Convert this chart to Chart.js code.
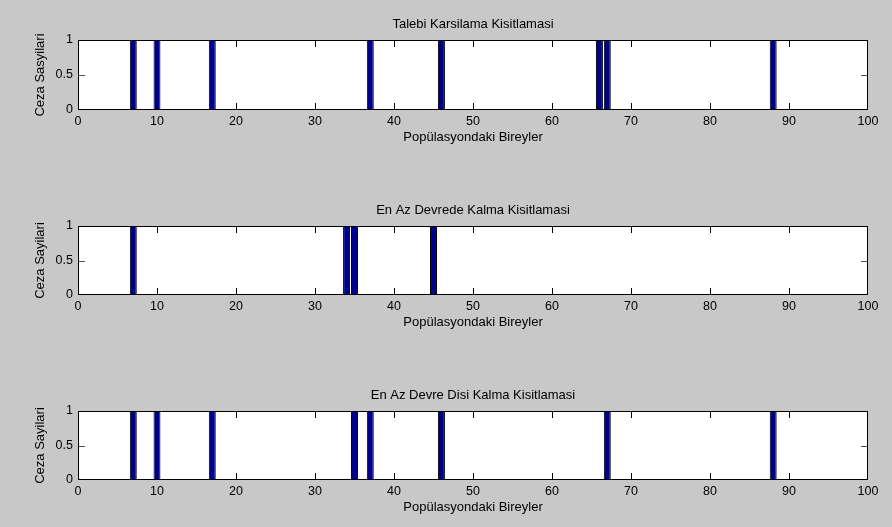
<!DOCTYPE html>
<html>
<head>
<meta charset="utf-8">
<title>Ceza Sayilari</title>
<script src="https://cdn.jsdelivr.net/npm/chart.js@4.4.1/dist/chart.umd.min.js"></script>
<style>
  html, body { margin: 0; padding: 0; background: #c8c8c8; }
  body { width: 892px; height: 527px; position: relative; overflow: hidden; }
  canvas { position: absolute; left: 0; }
</style>
</head>
<body>
<canvas id="c1" width="892" height="150" style="top:0px"></canvas>
<canvas id="c2" width="892" height="149" style="top:186px"></canvas>
<canvas id="c3" width="892" height="149" style="top:371px"></canvas>
<script>
// Population size (individuals are numbered 1..populationSize)
const populationSize = 100;

// Penalised individuals and their penalty counts, one pair of arrays per constraint
const talebiIndividuals = [7, 10, 17, 37, 46, 66, 67, 88];
const talebiCounts      = [1, 1, 1, 1, 1, 1, 1, 1];

const devredeIndividuals = [7, 34, 35, 45];
const devredeCounts      = [1, 1, 1, 1];

const disiIndividuals = [7, 10, 17, 35, 37, 46, 67, 88];
const disiCounts      = [1, 1, 1, 1, 1, 1, 1, 1];

// Axis settings
const xTickValues = [0, 10, 20, 30, 40, 50, 60, 70, 80, 90, 100];
const yTickValues = [0, 0.5, 1];

const titles = [
  'Talebi Karsilama Kisitlamasi',
  'En Az Devrede Kalma Kisitlamasi',
  'En Az Devre Disi Kalma Kisitlamasi'
];
const yTitles = ['Ceza Sasyilari', 'Ceza Sayilari', 'Ceza Sayilari'];
const xTitle = 'Popülasyondaki Bireyler';

const FONT = '"Liberation Sans", Arial, Helvetica, sans-serif';
Chart.defaults.color = '#000';
Chart.defaults.font.family = FONT;

// Build one point per individual; individuals without a penalty get 0
function buildPoints(individuals, counts) {
  const pts = [];
  for (let i = 1; i <= populationSize; i++) {
    const k = individuals.indexOf(i);
    pts.push({ x: i, y: k >= 0 ? counts[k] : 0 });
  }
  return pts;
}

// White axes box, black frame and inward tick marks on all four sides
const axesBox = {
  id: 'axesBox',
  beforeDraw(chart) {
    const a = chart.chartArea, ctx = chart.ctx;
    ctx.save();
    ctx.fillStyle = '#ffffff';
    ctx.fillRect(a.left, a.top, a.right - a.left, a.bottom - a.top);
    ctx.restore();
  },
  afterDatasetsDraw(chart) {
    const a = chart.chartArea, ctx = chart.ctx;
    const xs = chart.scales.x, ys = chart.scales.y;
    const len = 7;
    ctx.save();
    ctx.lineWidth = 1;
    ctx.strokeStyle = '#000';
    xTickValues.forEach(v => {
      if (v <= xs.min || v >= xs.max) return;
      const px = Math.round(xs.getPixelForValue(v)) + 0.5;
      ctx.beginPath();
      ctx.moveTo(px, a.bottom); ctx.lineTo(px, a.bottom - len);
      ctx.moveTo(px, a.top); ctx.lineTo(px, a.top + len);
      ctx.stroke();
    });
    ctx.strokeStyle = '#555';
    yTickValues.forEach(v => {
      if (v <= ys.min || v >= ys.max) return;
      const py = Math.round(ys.getPixelForValue(v)) + 0.5;
      ctx.beginPath();
      ctx.moveTo(a.left, py); ctx.lineTo(a.left + len, py);
      ctx.moveTo(a.right, py); ctx.lineTo(a.right - len, py);
      ctx.stroke();
    });
    ctx.strokeStyle = '#000';
    ctx.strokeRect(Math.round(a.left) + 0.5, Math.round(a.top) + 0.5,
                   Math.round(a.right - a.left) - 1, Math.round(a.bottom - a.top) - 1);
    ctx.restore();
  }
};

function makePanel(canvasId, title, yTitle, individuals, counts) {
  const xAxisHeight = 40;
  return new Chart(document.getElementById(canvasId), {
    type: 'bar',
    data: {
      datasets: [{
        data: buildPoints(individuals, counts),
        backgroundColor: '#00008f',
        borderColor: '#000000',
        borderWidth: ctx => (ctx.parsed && ctx.parsed.y > 0 ? 1 : 0),
        borderSkipped: false,
        categoryPercentage: 1.0,
        barPercentage: 0.88
      }]
    },
    plugins: [axesBox],
    options: {
      responsive: false,
      animation: false,
      events: [],
      layout: { padding: { left: 0, right: 24, top: 0, bottom: 0 } },
      plugins: {
        legend: { display: false },
        tooltip: { enabled: false },
        title: {
          display: true,
          text: title,
          fullSize: false,
          color: '#000',
          font: { family: FONT, size: 13, weight: 'normal' },
          padding: { top: 16.2, bottom: 8.2 }
        }
      },
      scales: {
        x: {
          type: 'linear',
          min: 0,
          max: 100,
          offset: false,
          grid: { display: false, drawTicks: false },
          border: { display: false },
          afterBuildTicks: s => { s.ticks = xTickValues.map(v => ({ value: v })); },
          afterFit: s => { s.height = xAxisHeight; },
          ticks: {
            autoSkip: false,
            maxRotation: 0,
            padding: 4,
            color: '#000',
            font: { family: FONT, size: 12.5 },
            callback: v => String(v)
          },
          title: {
            display: true,
            text: xTitle,
            color: '#000',
            font: { family: FONT, size: 13 },
            padding: { top: 0, bottom: 5.2 }
          }
        },
        y: {
          min: 0,
          max: 1,
          grid: { display: false, drawTicks: false },
          border: { display: false },
          afterBuildTicks: s => { s.ticks = yTickValues.map(v => ({ value: v })); },
          afterFit: s => { s.width = 78; },
          ticks: {
            padding: 5,
            color: '#000',
            font: { family: FONT, size: 12.5 },
            callback: v => String(v)
          },
          title: {
            display: true,
            text: yTitle,
            color: '#000',
            font: { family: FONT, size: 13 },
            padding: { top: 32.2, bottom: 0 }
          }
        }
      }
    }
  });
}

makePanel('c1', titles[0], yTitles[0], talebiIndividuals, talebiCounts);
makePanel('c2', titles[1], yTitles[1], devredeIndividuals, devredeCounts);
makePanel('c3', titles[2], yTitles[2], disiIndividuals, disiCounts);
</script>
</body>
</html>
